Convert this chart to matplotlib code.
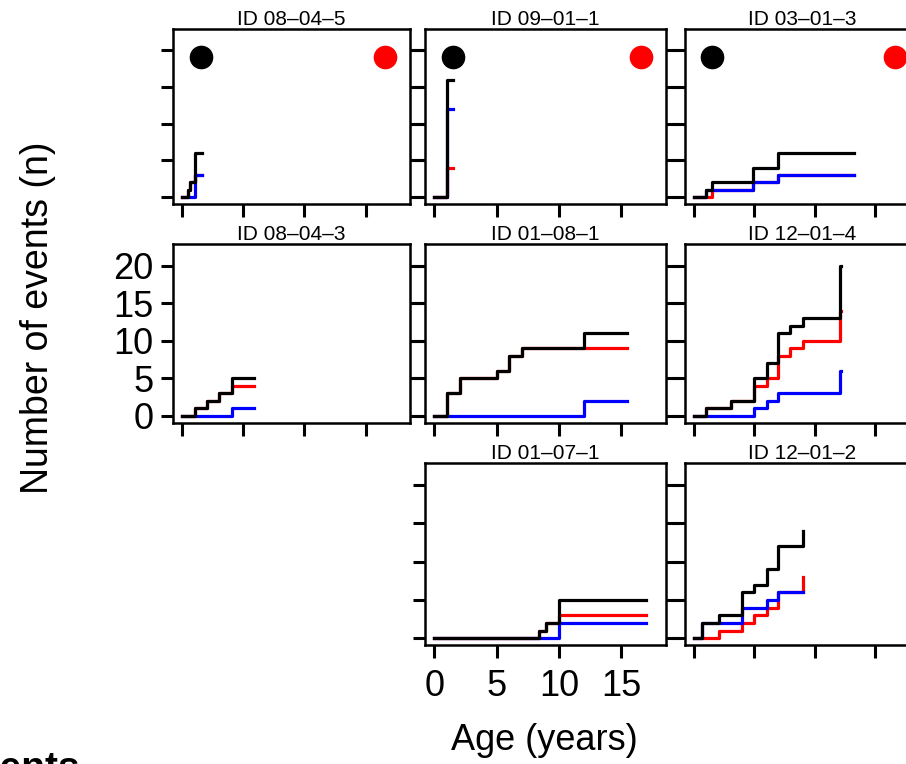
import matplotlib
matplotlib.use("Agg")
import matplotlib.pyplot as plt

plt.rcParams["font.family"] = ["Liberation Sans", "DejaVu Sans"]

W, H = 906, 764

# one panel per individual
ids = ["ID 08–04–5", "ID 09–01–1", "ID 03–01–3",
       "ID 08–04–3", "ID 01–08–1", "ID 12–01–4",
       "ID 01–07–1", "ID 12–01–2"]
panel_row = [0, 0, 0, 1, 1, 1, 2, 2]
panel_col = [0, 1, 2, 0, 1, 2, 1, 2]

# age at start / end of follow-up (years)
start_age = [0, 0, 0, 0, 0, 0, 0, 0]
end_age = [1.64, 1.5, 13.2, 5.9, 15.5, 12.2, 17.0, 9.05]

# ages at which each kind of event happened
red_events = [
    [0.45, 0.6, 1.0],
    [1.03, 1.03, 1.03, 1.03],
    [1.54, 4.92, 7.0],
    [1.02, 2.03, 3.0, 4.04],
    [0.97, 0.97, 0.97, 2.04, 2.04, 5.0, 6.0, 6.0, 7.0],
    [1.0, 3.04, 5.0, 5.0, 6.03, 6.98, 6.98, 6.98, 7.93, 9.02,
     12.07, 12.07, 12.07, 12.07],
    [8.4, 9.0, 10.0],
    [2.09, 4.0, 4.95, 6.03, 6.98, 6.98, 9.02, 9.02],
]
blue_events = [
    [1.0, 1.0, 1.0],
    [1.03, 1.03, 1.03, 1.03, 1.03, 1.03, 1.03, 1.03, 1.03, 1.03, 1.03, 1.03],
    [1.05, 4.92, 7.0],
    [4.04],
    [12.0, 12.0],
    [5.0, 6.03, 6.98, 12.07, 12.07, 12.07],
    [10.0, 10.0],
    [0.65, 0.65, 4.0, 4.0, 6.03, 6.98],
]

# the two dots drawn in the top row
dot_x = [1.5, 16.6]
dot_y = [19, 19]
dot_colors = ["black", "red"]

x_ticks = [0, 5, 10, 15]
y_ticks = [0, 5, 10, 15, 20]

# panel boxes in pixels
col_px = [(173, 409.5), (425, 666), (684.5, 919)]
row_px = [(29, 203.5), (244, 422.5), (463, 645)]


def cumulative(events, t0, t1):
    ev = sorted(events)
    xs = [t0] + ev + [t1]
    ys = [0] + list(range(1, len(ev) + 1)) + [len(ev)]
    return xs, ys


fig = plt.figure(figsize=(W / 100, H / 100), dpi=100)

for i, name in enumerate(ids):
    x0, x1 = col_px[panel_col[i]]
    y0, y1 = row_px[panel_row[i]]
    ax = fig.add_axes([x0 / W, 1 - y1 / H, (x1 - x0) / W, (y1 - y0) / H])

    t0, t1 = start_age[i], end_age[i]
    for events, color in [(red_events[i], "red"), (blue_events[i], "blue"),
                          (red_events[i] + blue_events[i], "black")]:
        xs, ys = cumulative(events, t0, t1)
        ax.step(xs, ys, where="post", color=color, lw=2.3)

    if panel_row[i] == 0:
        for dx, dy, c in zip(dot_x, dot_y, dot_colors):
            ax.plot(dx, dy, "o", color=c, markersize=16, clip_on=False)

    ax.set_xlim(-0.76, 18.6)
    ax.set_ylim(-0.88, 22.88)
    ax.set_xticks(x_ticks)
    ax.set_yticks(y_ticks)
    ax.tick_params(direction="out", length=9, width=2.2, labelsize=26,
                   left=True, right=True, bottom=True, top=False,
                   labelleft=(name == "ID 08–04–3"),
                   labelbottom=(name == "ID 01–07–1"))
    ax.tick_params(axis="y", pad=5)
    ax.tick_params(axis="x", pad=8)
    for s in ax.spines.values():
        s.set_linewidth(1.8)
    ax.set_title(name, fontsize=15, pad=3)

fig.text(38 / W, 1 - 318 / H, "Number of events (n)", rotation=90,
         fontsize=27, ha="center", va="center")
fig.text(544 / W, 1 - 740 / H, "Age (years)", fontsize=26,
         ha="center", va="center")
fig.text(80 / W, -15 / H, "Events", fontsize=28, fontweight="bold",
         ha="right", va="baseline")

fig.savefig("out.png", dpi=100)
